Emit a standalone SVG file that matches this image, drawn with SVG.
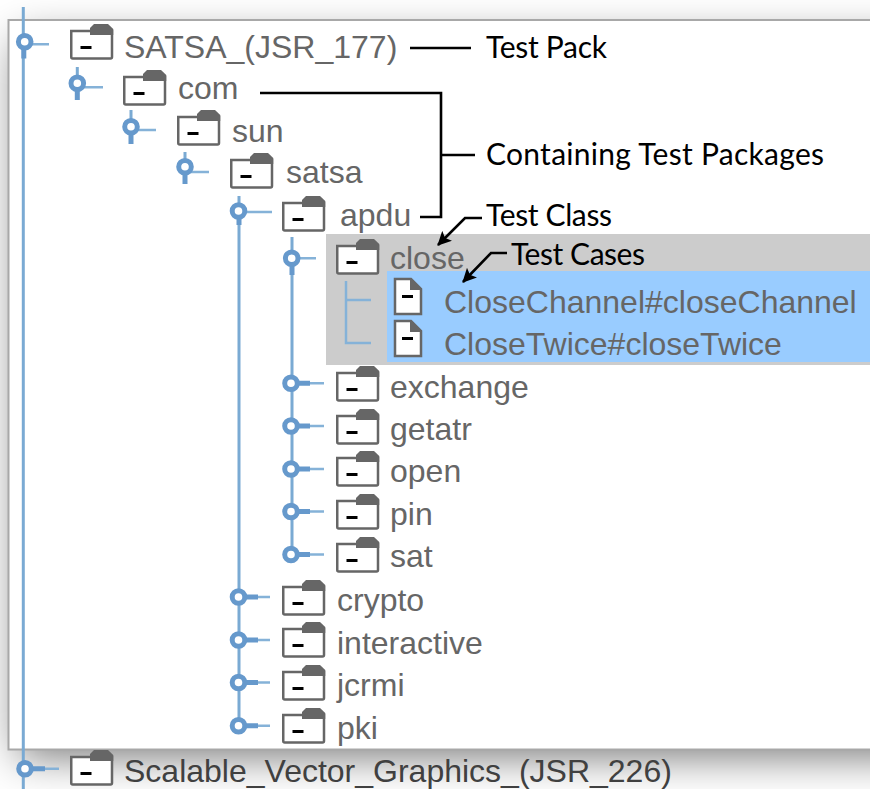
<svg xmlns="http://www.w3.org/2000/svg" width="870" height="789" viewBox="0 0 870 789">
<style>
text{font-family:"Liberation Sans",Arial,sans-serif}
.t{font-size:32px;fill:#666}
.d{fill:#404040}
.l{font-family:Lato,"Open Sans",sans-serif;font-size:30px;fill:#000}
.tree{stroke:#7aaad3;stroke-width:3;fill:none}
.stub{stroke:#85b2d8;stroke-width:2.500;fill:none}
.knob{fill:#fff;stroke:#6699cc;stroke-width:5}
.thick{stroke:#6699cc;stroke-width:5;fill:none}
.lead{stroke:#000;stroke-width:2.600;fill:none}
</style>
<defs>
<filter id="sh" filterUnits="userSpaceOnUse" x="-100" y="-100" width="1100" height="1000"><feGaussianBlur stdDeviation="22"/></filter>
<g id="folder">
<path d="M1.250 7H42V33a1.500 1.500 0 0 1-1.500 1.500H2.750A1.500 1.500 0 0 1 1.250 33Z" fill="#fff" stroke="#666" stroke-width="2.500"/>
<path d="M20 11V4L24 0H38L43.250 5V11Z" fill="#666"/>
<rect x="10.500" y="22" width="11" height="3" fill="#000"/>
</g>
<g id="file">
<path d="M1 1H17L27 11V36H1Z" fill="#fff" stroke="#666" stroke-width="2.500"/>
<path d="M16 0L28 12H16Z" fill="#666"/>
<rect x="8" y="17" width="11" height="3" fill="#000"/>
</g>
<circle id="knob" class="knob" r="6.300"/>
<marker id="ah" viewBox="0 0 14 14" refX="13" refY="7" markerWidth="14" markerHeight="14" markerUnits="userSpaceOnUse" orient="auto"><path d="M0 0L14 7L0 14L3 7Z" fill="#000"/></marker>
</defs>
<rect width="870" height="789" fill="#fff"/>
<rect x="18" y="40" width="950" height="716" fill="#000" fill-opacity=".55" filter="url(#sh)"/>
<rect x="8.500" y="20" width="880" height="729.500" fill="#fff" stroke="#a8a8a8" stroke-width="2"/>
<rect x="326" y="234" width="544" height="131" fill="#ccc"/>
<rect x="387" y="271" width="483" height="91" fill="#9cf"/>
<g id="connectors">
<path class="tree" d="M23.300 7V789"/>
<path class="tree" d="M239 196V726"/>
<path class="tree" d="M292 237V554"/>
<path class="tree" d="M77.300 67V84M131 110V128M185 152V168"/>
<path class="thick" d="M23.800 44V58.500M77.300 84V100M131 127V144M185 167V184M292 258V275M239 212V225"/>
<path class="stub" d="M346 281V343H371M346 300H371"/>
<path class="stub" d="M24 44.300H49M77 87.300H103M131 130H156M185 172H209M239 212H272M292 258.300H316M291 383.300H324M291 426H324M291 469H324M291 511.500H324M291 554.500H324M239 597H270M239 640H270M239 682.500H270M239 725.700H270M25 768.700H59"/>
<path class="thick" d="M291 383.300H310M291 426H310M291 469H310M291 511.500H310M291 554.500H310M239 597H258M239 640H258M239 682.500H258M239 725.700H258M25 768.700H45"/>
<path class="lead" d="M410 48H471"/>
<path class="lead" d="M260 93H441V217H420M441 155H475"/>
<path class="lead" d="M482 218H465L438 245" marker-end="url(#ah)"/>
<path class="lead" d="M507 253H491L463 282" marker-end="url(#ah)"/>
</g>
<g id="n-satsa"><use href="#knob" x="24.700" y="41.700"/><use href="#folder" x="70" y="24"/><text class="t" x="124" y="57.500">SATSA_(JSR_177)</text></g>
<g id="n-com"><use href="#knob" x="77.300" y="83.300"/><use href="#folder" x="123" y="70"/><text class="t" x="178" y="99">com</text></g>
<g id="n-sun"><use href="#knob" x="131" y="126.700"/><use href="#folder" x="177" y="110"/><text class="t" x="232" y="142">sun</text></g>
<g id="n-satsa2"><use href="#knob" x="185" y="166.700"/><use href="#folder" x="230" y="153"/><text class="t" x="286" y="183">satsa</text></g>
<g id="n-apdu"><use href="#knob" x="238.500" y="211"/><use href="#folder" x="282" y="196"/><text class="t" x="340" y="226">apdu</text></g>
<g id="n-close"><use href="#knob" x="291.700" y="258.300"/><use href="#folder" x="336" y="239"/><text class="t" x="390" y="269">close</text></g>
<g id="n-case1"><use href="#file" x="394" y="278"/><text class="t" x="444" y="313">CloseChannel#closeChannel</text></g>
<g id="n-case2"><use href="#file" x="394" y="320"/><text class="t" x="444" y="355">CloseTwice#closeTwice</text></g>
<g id="n-exchange"><use href="#knob" x="291" y="383.300"/><use href="#folder" x="336" y="366"/><text class="t" x="390" y="398">exchange</text></g>
<g id="n-getatr"><use href="#knob" x="291" y="426"/><use href="#folder" x="336" y="409"/><text class="t" x="390" y="440">getatr</text></g>
<g id="n-open"><use href="#knob" x="291" y="469"/><use href="#folder" x="336" y="451"/><text class="t" x="390" y="482">open</text></g>
<g id="n-pin"><use href="#knob" x="291" y="511.500"/><use href="#folder" x="336" y="494"/><text class="t" x="390" y="525">pin</text></g>
<g id="n-sat"><use href="#knob" x="291" y="554.500"/><use href="#folder" x="336" y="537"/><text class="t" x="390" y="567">sat</text></g>
<g id="n-crypto"><use href="#knob" x="238.500" y="597"/><use href="#folder" x="282" y="580"/><text class="t" x="337" y="611">crypto</text></g>
<g id="n-interactive"><use href="#knob" x="238.500" y="640"/><use href="#folder" x="282" y="622"/><text class="t" x="337" y="654">interactive</text></g>
<g id="n-jcrmi"><use href="#knob" x="238.500" y="682.500"/><use href="#folder" x="282" y="665"/><text class="t" x="337" y="696">jcrmi</text></g>
<g id="n-pki"><use href="#knob" x="238.500" y="725.700"/><use href="#folder" x="282" y="708"/><text class="t" x="337" y="739">pki</text></g>
<g id="n-svg"><use href="#knob" x="25" y="768.700"/><use href="#folder" x="70" y="750"/><text class="t d" x="124" y="782">Scalable_Vector_Graphics_(JSR_226)</text></g>
<text class="l" x="486" y="58" textLength="121">Test Pack</text>
<text class="l" x="486" y="165" textLength="338">Containing Test Packages</text>
<text class="l" x="486" y="226" textLength="126">Test Class</text>
<text class="l" x="511" y="265" textLength="134">Test Cases</text>
</svg>
